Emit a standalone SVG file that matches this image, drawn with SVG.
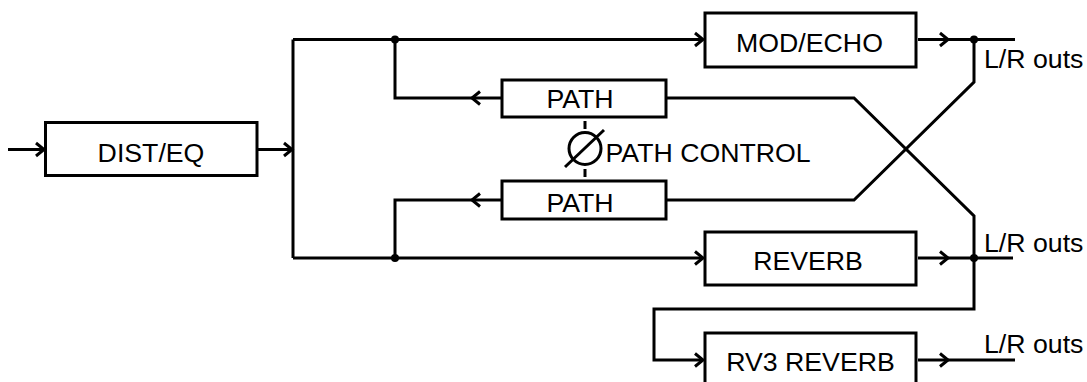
<svg xmlns="http://www.w3.org/2000/svg" width="1087" height="382" viewBox="0 0 1087 382">
<defs>
<style>
.box{fill:#fff;stroke:#000;stroke-width:3}
.ln{fill:none;stroke:#000;stroke-width:3;stroke-linejoin:miter}
.lbl{font-family:"Liberation Sans",Arial,sans-serif;font-size:26.7px;fill:#000}
.mid{text-anchor:middle}
.dot{fill:#000}
</style>
<marker id="arr" markerUnits="userSpaceOnUse" markerWidth="20" markerHeight="20" viewBox="-12 -10 14 20" refX="0" refY="0" orient="auto">
<path d="M-8,-6.5 L0,0 L-8,6.5" fill="none" stroke="#000" stroke-width="3"/>
</marker>
</defs>
<rect width="1087" height="382" fill="#fff"/>
<g id="connectors">
<path class="ln" d="M8,149.5 H44" marker-end="url(#arr)"/>
<path class="ln" d="M258,149.5 H292" marker-end="url(#arr)"/>
<path class="ln" d="M293,39.5 V258"/>
<path class="ln" d="M293,39.5 H703" marker-end="url(#arr)"/>
<path class="ln" d="M293,258 H703" marker-end="url(#arr)"/>
<path class="ln" d="M502,98 H472" marker-end="url(#arr)"/>
<path class="ln" d="M472,98 H395 V39.5"/>
<path class="ln" d="M502,200 H472" marker-end="url(#arr)"/>
<path class="ln" d="M472,200 H395 V258"/>
<path class="ln" d="M666,98 H854 L974,216 V309 H654 V360 H703" marker-end="url(#arr)"/>
<path class="ln" d="M666,200 H854 L974,82 V39.5"/>
<path class="ln" d="M918,39.5 H948" marker-end="url(#arr)"/>
<path class="ln" d="M948,39.5 H1015"/>
<path class="ln" d="M918,258 H948" marker-end="url(#arr)"/>
<path class="ln" d="M948,258 H1013"/>
<path class="ln" d="M918,360 H948" marker-end="url(#arr)"/>
<path class="ln" d="M948,360 H1015"/>
<circle class="dot" cx="395" cy="39.5" r="4"/>
<circle class="dot" cx="395" cy="258" r="4"/>
<circle class="dot" cx="974" cy="39.5" r="4"/>
<circle class="dot" cx="974" cy="258" r="4"/>
</g>
<g id="dist-eq">
<rect class="box" x="45.5" y="122.5" width="211.5" height="53"/>
<text class="lbl mid" x="151" y="161.5">DIST/EQ</text>
</g>
<g id="mod-echo">
<rect class="box" x="705" y="13" width="211" height="54"/>
<text class="lbl mid" x="809.5" y="51.5">MOD/ECHO</text>
</g>
<g id="path-upper">
<rect class="box" x="502" y="80" width="164" height="37"/>
<text class="lbl mid" x="580" y="108">PATH</text>
</g>
<g id="path-lower">
<rect class="box" x="502" y="181" width="164" height="38"/>
<text class="lbl mid" x="580" y="211.5">PATH</text>
</g>
<g id="path-control">
<path class="ln" d="M585,121 V129 M585,169 V177"/>
<circle cx="585" cy="148.5" r="16" fill="none" stroke="#000" stroke-width="3"/>
<path class="ln" d="M565,167 L604,130"/>
<text class="lbl" x="605.5" y="161.5">PATH CONTROL</text>
</g>
<g id="reverb">
<rect class="box" x="705" y="232" width="211" height="53"/>
<text class="lbl mid" x="808" y="270">REVERB</text>
</g>
<g id="rv3-reverb">
<rect class="box" x="705" y="333" width="211" height="60"/>
<text class="lbl mid" x="810.5" y="371">RV3 REVERB</text>
</g>
<g id="outputs">
<text class="lbl" x="984" y="67.5">L/R outs</text>
<text class="lbl" x="984" y="251.5">L/R outs</text>
<text class="lbl" x="984" y="352.5">L/R outs</text>
</g>
</svg>
